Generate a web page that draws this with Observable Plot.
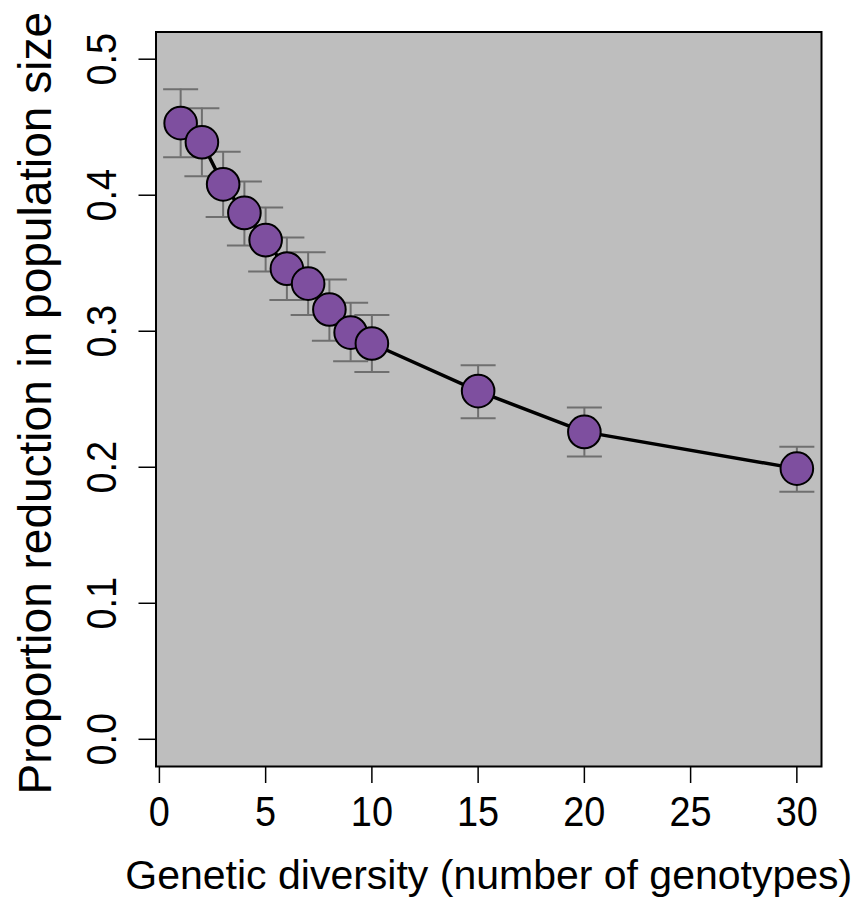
<!DOCTYPE html>
<html>
<head>
<meta charset="utf-8">
<script src="https://cdn.jsdelivr.net/npm/d3@7"></script>
<script src="https://cdn.jsdelivr.net/npm/@observablehq/plot@0.6"></script>
<style>
  html, body { margin: 0; padding: 0; background: #ffffff; }
  #chart svg { display: block; }
</style>
</head>
<body>
<div id="chart"></div>
<script>
// Genetic diversity (number of genotypes)
const diversity = [1, 2, 3, 4, 5, 6, 7, 8, 9, 10, 15, 20, 30];
// Mean proportion reduction in population size
const meanReduction = [0.453, 0.439, 0.408, 0.387, 0.367, 0.346, 0.335, 0.316, 0.299, 0.291, 0.256, 0.226, 0.199];
// Error bar upper and lower limits
const upperLimit = [0.478, 0.464, 0.432, 0.410, 0.391, 0.369, 0.358, 0.338, 0.321, 0.312, 0.275, 0.244, 0.215];
const lowerLimit = [0.428, 0.414, 0.384, 0.363, 0.344, 0.323, 0.312, 0.293, 0.278, 0.270, 0.236, 0.208, 0.182];

const xTicks = [0, 5, 10, 15, 20, 25, 30];
const yTicks = [0.0, 0.1, 0.2, 0.3, 0.4, 0.5];
const xTitle = "Genetic diversity (number of genotypes)";
const yTitle = "Proportion reduction in population size";

const data = diversity.map((x, i) => ({
  x, mean: meanReduction[i], hi: upperLimit[i], lo: lowerLimit[i]
}));

// horizontal-bar symbol for error bar caps (half width = r)
const capSymbol = {
  draw(context, size) {
    const w = Math.sqrt(size / Math.PI);
    context.moveTo(-w, 0);
    context.lineTo(w, 0);
  }
};

const font = "'Liberation Sans', Arial, Helvetica, sans-serif";
const barColor = "#6f6f6f";

const chart = Plot.plot({
  width: 860,
  height: 905,
  marginLeft: 155.5,
  marginRight: 39,
  marginTop: 31.5,
  marginBottom: 139,
  style: { background: "#ffffff", fontFamily: font, color: "black" },
  x: { domain: [-0.16, 31.16], label: null },
  y: { domain: [-0.02, 0.52], label: null },
  marks: [
    Plot.frame({ fill: "#bebebe" }),
    Plot.ruleX(data, { x: "x", y1: "lo", y2: "hi", stroke: barColor, strokeWidth: 2 }),
    Plot.dot(data, { x: "x", y: "hi", symbol: capSymbol, r: 17.5, stroke: barColor, strokeWidth: 2, fill: "none" }),
    Plot.dot(data, { x: "x", y: "lo", symbol: capSymbol, r: 17.5, stroke: barColor, strokeWidth: 2, fill: "none" }),
    Plot.line(data, { x: "x", y: "mean", stroke: "black", strokeWidth: 3.5 }),
    Plot.dot(data, { x: "x", y: "mean", r: 16.3, fill: "#7e4f9f", stroke: "black", strokeWidth: 2 }),
    Plot.frame({ stroke: "black", strokeWidth: 2 }),
    Plot.axisX({
      ticks: xTicks, tickSize: 17, tickPadding: 12, tickFormat: d => String(d),
      fontSize: 43, stroke: "black", strokeWidth: 1.5, label: null
    }),
    Plot.axisY({
      ticks: yTicks, tickSize: 17, tickFormat: () => "", stroke: "black", strokeWidth: 1.5, label: null
    }),
    Plot.text(yTicks, {
      y: d => d, text: d => d.toFixed(1), frameAnchor: "left", dx: -53.5, rotate: -90,
      textAnchor: "middle", fontSize: 43, fill: "black", className: "ytick-label"
    }),
    Plot.text([yTitle], {
      text: d => d, frameAnchor: "left", dx: -119.5, dy: 4, rotate: -90,
      textAnchor: "middle", fontSize: 46, fill: "black"
    }),
    Plot.text([xTitle], {
      text: d => d, frameAnchor: "bottom", dy: 122, textAnchor: "middle",
      fontSize: 41, fill: "black"
    })
  ]
});

document.getElementById("chart").appendChild(chart);

// the reference's tick labels are set in a slightly condensed face
const condense = (el) => {
  const t = el.getAttribute("transform") || "";
  el.setAttribute("transform", (t + " scale(0.88,1)").trim());
};
chart.querySelectorAll("g[aria-label='x-axis tick label'] text").forEach(condense);
chart.querySelectorAll("g.ytick-label text").forEach(condense);
</script>
</body>
</html>
